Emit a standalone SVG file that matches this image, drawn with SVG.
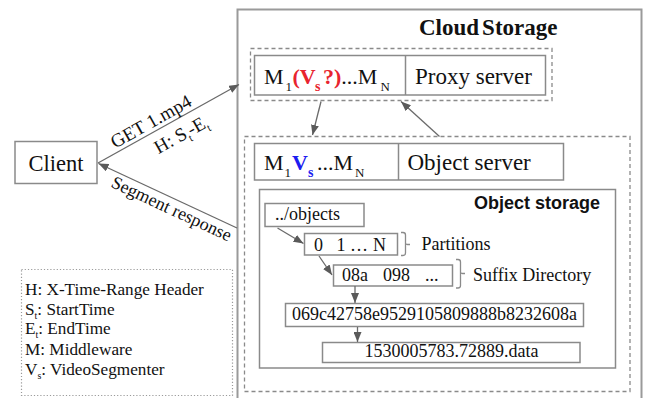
<svg xmlns="http://www.w3.org/2000/svg" width="648" height="398" viewBox="0 0 648 398">
  <defs>
    <marker id="arrow" viewBox="0 0 10 8" refX="10" refY="4" markerWidth="10" markerHeight="8" markerUnits="userSpaceOnUse" orient="auto">
      <path d="M0,0 L10,4 L0,8 z" fill="#5a5a5a"/>
    </marker>
    <style>
      .serif { font-family: "Liberation Serif", "Times New Roman", serif; fill: #111; }
      .box { fill: #fff; stroke: #8a8a8a; stroke-width: 1.5; }
      .dash { fill: none; stroke: #8a8a8a; stroke-width: 1.3; stroke-dasharray: 4 3; }
      .conn { fill: none; stroke: #6a6a6a; stroke-width: 1.3; marker-end: url(#arrow); }
      .brace { fill: none; stroke: #8a8a8a; stroke-width: 1.3; }
      .red { fill: #e8242e; font-weight: bold; }
      .blue { fill: #1c1cf0; font-weight: bold; }
    </style>
  </defs>
  <rect width="648" height="398" fill="#fff"/>

  <!-- cloud storage frame -->
  <g id="cloud-storage">
    <rect x="237.5" y="9.5" width="404" height="400" fill="none" stroke="#9a9a9a" stroke-width="2"/>
    <text class="serif" x="419" y="35" font-size="23" font-weight="bold">Cloud<tspan dx="3">Storage</tspan></text>
  </g>

  <!-- proxy server -->
  <g id="proxy">
    <rect class="dash" x="250.5" y="48.5" width="301.5" height="52"/>
    <rect class="box" x="254.5" y="55.5" width="291" height="39.5"/>
    <line x1="405.5" y1="55.5" x2="405.5" y2="95" stroke="#8a8a8a" stroke-width="1.5"/>
    <text class="serif" font-size="22" y="83.5">
      <tspan x="264">M</tspan><tspan x="285.5" y="90.5" font-size="13">1</tspan><tspan x="292.5" y="83.5" class="red">(V</tspan><tspan x="315" y="90.5" font-size="14" class="red">s</tspan><tspan x="323" y="83.5" class="red" font-weight="normal">?)</tspan><tspan>...M</tspan><tspan x="380.5" y="90.5" font-size="13">N</tspan>
    </text>
    <text class="serif" x="415" y="83.5" font-size="23">Proxy server</text>
  </g>

  <!-- object server -->
  <g id="object-server">
    <rect class="dash" x="244.5" y="136.5" width="385.5" height="255"/>
    <rect class="box" x="254.5" y="143.5" width="309" height="36.5"/>
    <line x1="398.5" y1="143.5" x2="398.5" y2="180" stroke="#8a8a8a" stroke-width="1.5"/>
    <text class="serif" font-size="22" y="170">
      <tspan x="264">M</tspan><tspan x="284.5" y="177" font-size="13">1</tspan><tspan x="292" y="170" class="blue">V</tspan><tspan x="308" y="177" font-size="14" class="blue">s</tspan><tspan x="317" y="170">...M</tspan><tspan x="355" y="177" font-size="13">N</tspan>
    </text>
    <text class="serif" x="407.5" y="170" font-size="23">Object server</text>
  </g>

  <!-- object storage -->
  <g id="object-storage">
    <rect class="box" x="259.5" y="189.5" width="356" height="178.5"/>
    <text x="600" y="209" font-size="18" font-weight="bold" text-anchor="end" font-family="Liberation Sans, Arial, sans-serif" fill="#111">Object storage</text>
  </g>

  <g id="objects-dir">
    <rect class="box" x="265" y="203.5" width="99" height="23"/>
    <text class="serif" x="275" y="220" font-size="18">../objects</text>
  </g>

  <g id="partitions">
    <rect class="box" x="304.5" y="233.5" width="93" height="21.5"/>
    <text class="serif" y="251" font-size="18"><tspan x="314">0</tspan><tspan x="336.5">1</tspan><tspan x="350">…</tspan><tspan x="373">N</tspan></text>
    <path class="brace" d="M401,232.5 h2 q2.5,0 2.5,2.5 v8 q0,1.5 2,1.5 h2.5 M405.5,243 v10 q0,2.5 -2.5,2.5 h-2"/>
    <text class="serif" x="421.5" y="250" font-size="18">Partitions</text>
  </g>

  <g id="suffix-dir">
    <rect class="box" x="333.5" y="265" width="119" height="21"/>
    <text class="serif" y="281" font-size="18"><tspan x="342">08a</tspan><tspan x="383">098</tspan><tspan x="425">...</tspan></text>
    <path class="brace" d="M456,259.5 h2 q2.5,0 2.5,2.5 v10 q0,1.5 2,1.5 h2.5 M460.5,272 v13.5 q0,2.5 -2.5,2.5 h-2"/>
    <text class="serif" x="473" y="281" font-size="18">Suffix Directory</text>
  </g>

  <g id="hash-dir">
    <rect class="box" x="285.5" y="303.5" width="298" height="23"/>
    <text class="serif" x="434.5" y="320" font-size="18" text-anchor="middle">069c42758e9529105809888b8232608a</text>
  </g>

  <g id="data-file">
    <rect class="box" x="322.5" y="342.5" width="257.5" height="20"/>
    <text class="serif" x="451.5" y="357" font-size="18" text-anchor="middle">1530005783.72889.data</text>
  </g>

  <!-- client -->
  <g id="client">
    <rect class="box" x="15" y="141.5" width="82" height="42"/>
    <text class="serif" x="56" y="171" font-size="22.5" text-anchor="middle">Client</text>
  </g>

  <!-- legend -->
  <g id="legend">
    <rect x="21.5" y="269.5" width="211" height="126" fill="none" stroke="#9a9a9a" stroke-width="1.2" stroke-dasharray="1.2 2"/>
    <g class="serif" font-size="17.2">
      <text x="25" y="295">H: X-Time-Range Header</text>
      <text x="25" y="314.5">S<tspan dy="4" font-size="10">t</tspan><tspan dy="-4">: StartTime</tspan></text>
      <text x="25" y="334">E<tspan dy="4" font-size="10">t</tspan><tspan dy="-4">: EndTime</tspan></text>
      <text x="25" y="355">M: Middleware</text>
      <text x="25" y="374.5">V<tspan dy="4" font-size="10">s</tspan><tspan dy="-4">: VideoSegmenter</tspan></text>
    </g>
  </g>

  <!-- connectors -->
  <g id="connectors">
    <line class="conn" x1="98" y1="163" x2="239" y2="84.5"/>
    <line class="conn" x1="237" y1="228" x2="98.5" y2="163.5"/>
    <line class="conn" x1="321" y1="101.5" x2="312.5" y2="135"/>
    <line class="conn" x1="439.5" y1="136.5" x2="401" y2="101.5"/>
    <line class="conn" x1="277.5" y1="228" x2="303.5" y2="243.5"/>
    <line class="conn" x1="319" y1="256" x2="332" y2="275"/>
    <line class="conn" x1="355" y1="286" x2="355" y2="303"/>
    <line class="conn" x1="357.5" y1="327" x2="357.5" y2="342"/>
  </g>

  <!-- connector labels -->
  <g id="labels" class="serif" font-size="19">
    <text transform="translate(154,127) rotate(-29.3)" text-anchor="middle">GET 1.mp4</text>
    <text transform="translate(184,140) rotate(-29.3)" text-anchor="middle">H: S<tspan dy="5" font-size="11">t</tspan><tspan dy="-5">-E</tspan><tspan dy="5" font-size="11">t</tspan></text>
    <text transform="translate(169,214) rotate(25)" text-anchor="middle" font-size="18">Segment response</text>
  </g>
</svg>
